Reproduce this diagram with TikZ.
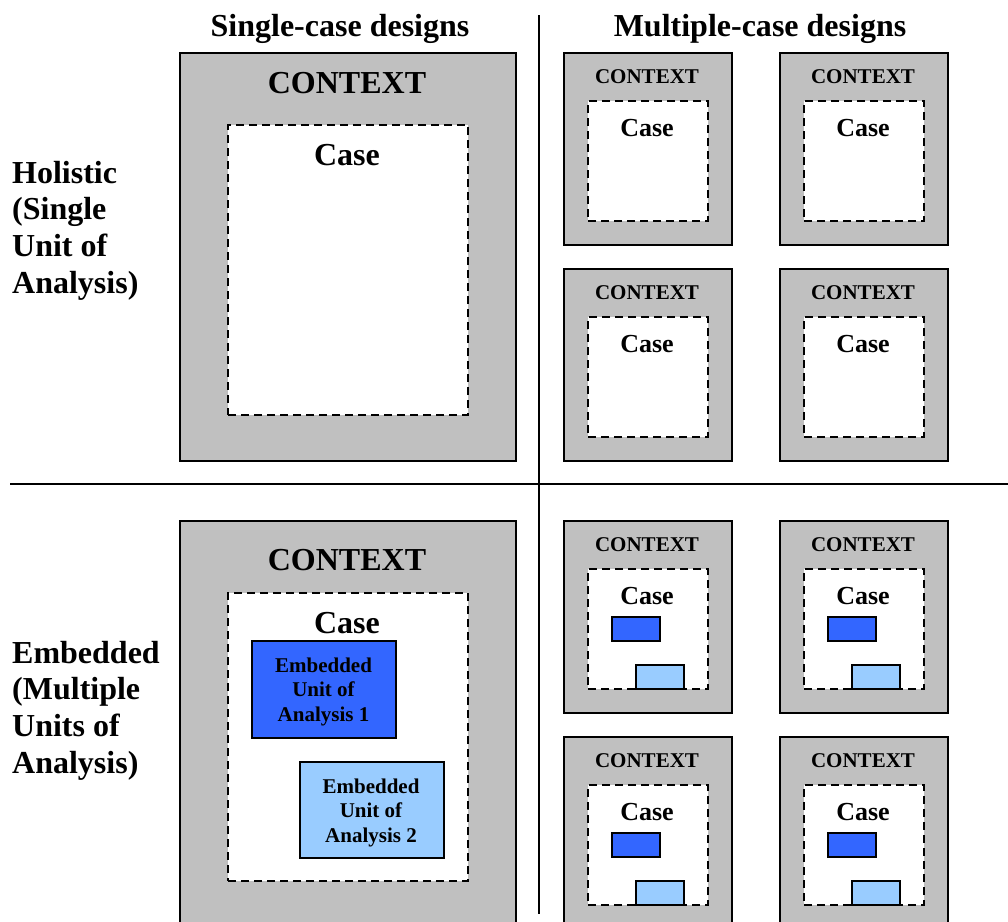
\documentclass[tikz,border=0pt]{standalone}
\usepackage{fontspec}
\setmainfont{Liberation Serif}
\definecolor{ctxgrey}{HTML}{C0C0C0}
\definecolor{unitdark}{HTML}{3366FF}
\definecolor{unitlight}{HTML}{99CCFF}
\begin{document}
\begin{tikzpicture}[x=1pt,y=-1pt,
  ctxbox/.style={draw=black, fill=ctxgrey, line width=2pt, inner sep=0pt, anchor=north west},
  casebox/.style={draw=black, fill=white, line width=2pt, dash pattern=on 8pt off 5pt, inner sep=0pt, anchor=north west},
  unitdarkbox/.style={draw=black, fill=unitdark, line width=1.6pt, inner sep=0pt, anchor=north west},
  unitlightbox/.style={draw=black, fill=unitlight, line width=1.6pt, inner sep=0pt, anchor=north west},
  bigtxt/.style={font=\fontsize{32}{36.8}\selectfont\bfseries, inner sep=0pt, anchor=base},
  lbltxt/.style={font=\fontsize{32}{36.8}\selectfont\bfseries, inner sep=0pt, anchor=base west},
  smallctx/.style={font=\fontsize{21}{24}\selectfont\bfseries, inner sep=0pt, anchor=base},
  smallcase/.style={font=\fontsize{26}{30}\selectfont\bfseries, inner sep=0pt, anchor=base},
  unittxt/.style={font=\fontsize{21}{24.5}\selectfont\bfseries, inner sep=0pt, align=center},
  sep/.style={line width=2pt}
]
\useasboundingbox (0,0) rectangle (1008,921);
\clip (0,0) rectangle (1008,921);

% titles
\node[bigtxt] (t1) at (340,36) {Single-case designs};
\node[bigtxt] (t2) at (760,36) {Multiple-case designs};

% separators
\coordinate (vtop) at (539,15);
\coordinate (vbot) at (539,914);
\coordinate (hl) at (10,484);
\coordinate (hr) at (1008,484);
\draw[sep] (vtop) -- (vbot);
\draw[sep] (hl) -- (hr);

% row labels
\node[lbltxt] (h1) at (12,183) {Holistic};
\node[lbltxt] (h2) at (12,219.7) {(Single};
\node[lbltxt] (h3) at (12,256.4) {Unit of};
\node[lbltxt] (h4) at (12,293) {Analysis)};
\node[lbltxt] (e1) at (12,663) {Embedded};
\node[lbltxt] (e2) at (12,699.7) {(Multiple};
\node[lbltxt] (e3) at (12,736.4) {Units of};
\node[lbltxt] (e4) at (12,773) {Analysis)};

% single holistic
\node[ctxbox, minimum width=336, minimum height=408] (sh) at (179,52) {};
\node[casebox, minimum width=240, minimum height=290] (shc) at (227,124) {};
\node[bigtxt] (shct) at (347,93) {CONTEXT};
\node[bigtxt] (shcs) at (347,165) {Case};

% single embedded
\node[ctxbox, minimum width=336, minimum height=410] (se) at (179,520) {};
\node[casebox, minimum width=240, minimum height=288] (sec) at (227,592) {};
\node[bigtxt] (sect) at (347,570) {CONTEXT};
\node[bigtxt] (secs) at (347,633) {Case};
\node[unitdarkbox, minimum width=144, minimum height=97] (u1) at (251,640) {};
\node[unittxt] (u1t) at (323.5,691.5) {Embedded\\Unit of\\Analysis 1};
\node[unitlightbox, minimum width=144, minimum height=96] (u2) at (299,761) {};
\node[unittxt] (u2t) at (371,812.5) {Embedded\\Unit of\\Analysis 2};

% multiple holistic
\foreach \bx/\by/\n in {563/52/a, 779/52/b, 563/268/c, 779/268/d}{
  \node[ctxbox, minimum width=168, minimum height=192] (mh\n) at (\bx,\by) {};
  \node[casebox, minimum width=120, minimum height=120] (mhc\n) at (\bx+24,\by+48) {};
  \node[smallctx] (mht\n) at (\bx+84,\by+31) {CONTEXT};
  \node[smallcase] (mhs\n) at (\bx+84,\by+84) {Case};
}

% multiple embedded
\foreach \bx/\by/\n in {563/520/a, 779/520/b, 563/736/c, 779/736/d}{
  \node[ctxbox, minimum width=168, minimum height=192] (me\n) at (\bx,\by) {};
  \node[casebox, minimum width=120, minimum height=120] (mec\n) at (\bx+24,\by+48) {};
  \node[smallctx] (met\n) at (\bx+84,\by+31) {CONTEXT};
  \node[smallcase] (mes\n) at (\bx+84,\by+84) {Case};
  \node[unitdarkbox, minimum width=48, minimum height=24] (med\n) at (\bx+48,\by+96) {};
  \node[unitlightbox, minimum width=48, minimum height=24] (mel\n) at (\bx+72,\by+144) {};
}
\end{tikzpicture}
\end{document}
